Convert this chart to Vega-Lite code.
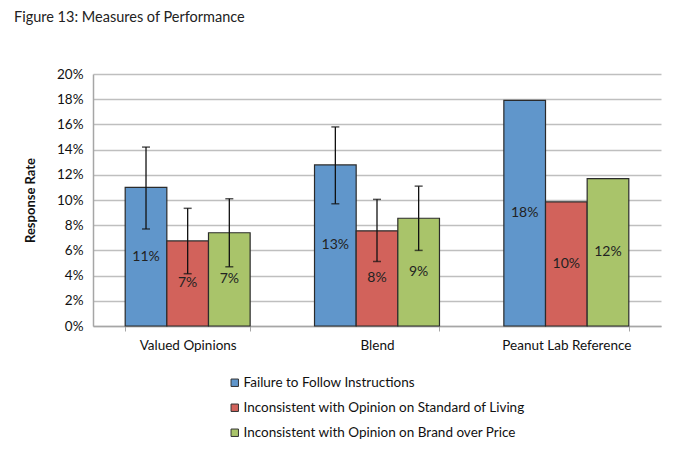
{
  "$schema": "https://vega.github.io/schema/vega-lite/v6.json",
  "autosize": "none",
  "width": 568,
  "height": 252,
  "padding": {"left": 93, "top": 74, "right": 14, "bottom": 131},
  "background": "white",
  "title": {
    "text": "Figure 13: Measures of Performance",
    "anchor": "start",
    "frame": "group",
    "dx": -79,
    "offset": 42,
    "font": "Lato",
    "fontSize": 14.5,
    "fontWeight": "normal",
    "color": "#222222"
  },
  "config": {
    "view": {"stroke": null},
    "font": "Lato",
    "axis": {"labelFont": "Lato", "titleFont": "Lato"},
    "axisY": {
      "title": "Response Rate",
      "titleFontSize": 13,
      "titleFontWeight": "bold",
      "titleColor": "#111111",
      "titlePadding": 19,
      "format": ".0%",
      "values": [0, 0.02, 0.04, 0.06, 0.08, 0.1, 0.12, 0.14, 0.16, 0.18, 0.2],
      "labelOverlap": false,
      "labelFontSize": 13.5,
      "labelColor": "#111111",
      "labelPadding": 10,
      "ticks": false,
      "domainColor": "#A6A6A6",
      "domainWidth": 1.5,
      "grid": true,
      "gridColor": "#BFBFBF",
      "gridWidth": 1.5
    }
  },
  "data": {
    "values": [
      {"group": "Valued Opinions", "series": "Failure to Follow Instructions", "value": 0.110, "lo": 0.077, "hi": 0.142},
      {"group": "Valued Opinions", "series": "Inconsistent with Opinion on Standard of Living", "value": 0.0675, "lo": 0.0415, "hi": 0.0934},
      {"group": "Valued Opinions", "series": "Inconsistent with Opinion on Brand over Price", "value": 0.074, "lo": 0.047, "hi": 0.101},
      {"group": "Blend", "series": "Failure to Follow Instructions", "value": 0.1278, "lo": 0.097, "hi": 0.158},
      {"group": "Blend", "series": "Inconsistent with Opinion on Standard of Living", "value": 0.0755, "lo": 0.0512, "hi": 0.1005},
      {"group": "Blend", "series": "Inconsistent with Opinion on Brand over Price", "value": 0.0855, "lo": 0.060, "hi": 0.111},
      {"group": "Peanut Lab Reference", "series": "Failure to Follow Instructions", "value": 0.179, "lo": null, "hi": null},
      {"group": "Peanut Lab Reference", "series": "Inconsistent with Opinion on Standard of Living", "value": 0.0985, "lo": null, "hi": null},
      {"group": "Peanut Lab Reference", "series": "Inconsistent with Opinion on Brand over Price", "value": 0.117, "lo": null, "hi": null}
    ]
  },
  "encoding": {
    "x": {
      "field": "group",
      "type": "nominal",
      "sort": ["Valued Opinions", "Blend", "Peanut Lab Reference"],
      "scale": {"paddingInner": 0.34, "paddingOuter": 0.17},
      "axis": {
        "title": null,
        "labelAngle": 0,
        "labelFontSize": 13.5,
        "labelColor": "#111111",
        "labelPadding": 7,
        "tickBand": "extent",
        "tickSize": 5,
        "tickColor": "#A6A6A6",
        "domainColor": "#A6A6A6",
        "domainWidth": 1.5,
        "grid": false
      }
    },
    "xOffset": {
      "field": "series",
      "type": "nominal",
      "sort": ["Failure to Follow Instructions", "Inconsistent with Opinion on Standard of Living", "Inconsistent with Opinion on Brand over Price"],
      "scale": {"paddingInner": 0, "paddingOuter": 0}
    }
  },
  "layer": [
    {
      "mark": {"type": "bar", "stroke": "#2b2b2b", "strokeWidth": 1.2},
      "encoding": {
        "y": {
          "field": "value",
          "type": "quantitative",
          "title": "Response Rate",
          "scale": {"domain": [0, 0.2], "nice": false}
        },
        "color": {
          "field": "series",
          "type": "nominal",
          "sort": ["Failure to Follow Instructions", "Inconsistent with Opinion on Standard of Living", "Inconsistent with Opinion on Brand over Price"],
          "scale": {
            "domain": ["Failure to Follow Instructions", "Inconsistent with Opinion on Standard of Living", "Inconsistent with Opinion on Brand over Price"],
            "range": ["#6096CB", "#D2625B", "#A9C46A"]
          },
          "legend": {
            "title": null,
            "orient": "none",
            "legendX": 135,
            "legendY": 302,
            "direction": "vertical",
            "symbolType": "square",
            "symbolSize": 55,
            "symbolStrokeColor": "#333333",
            "symbolStrokeWidth": 1,
            "symbolOpacity": 1,
            "labelFontSize": 13.5,
            "labelColor": "#111111",
            "labelOffset": 2,
            "rowPadding": 10,
            "labelLimit": 400
          }
        }
      }
    },
    {
      "transform": [{"filter": "isValid(datum.lo)"}],
      "mark": {"type": "rule", "color": "#111111", "strokeWidth": 1.3},
      "encoding": {
        "y": {"field": "lo", "type": "quantitative", "title": "Response Rate"},
        "y2": {"field": "hi"}
      }
    },
    {
      "transform": [{"filter": "isValid(datum.lo)"}],
      "mark": {"type": "tick", "color": "#111111", "size": 8, "thickness": 1.5},
      "encoding": {
        "y": {"field": "lo", "type": "quantitative", "title": "Response Rate"}
      }
    },
    {
      "transform": [{"filter": "isValid(datum.hi)"}],
      "mark": {"type": "tick", "color": "#111111", "size": 8, "thickness": 1.5},
      "encoding": {
        "y": {"field": "hi", "type": "quantitative", "title": "Response Rate"}
      }
    },
    {
      "transform": [{"calculate": "datum.value / 2", "as": "mid"}],
      "mark": {"type": "text", "fontSize": 14, "color": "#222222", "baseline": "middle"},
      "encoding": {
        "y": {"field": "mid", "type": "quantitative", "title": "Response Rate"},
        "text": {"field": "value", "type": "quantitative", "format": ".0%"}
      }
    }
  ]
}
